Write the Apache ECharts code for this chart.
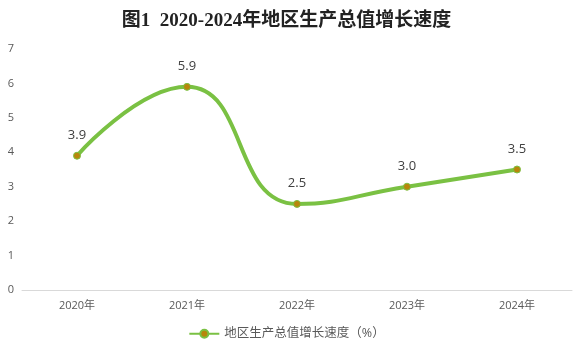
<!DOCTYPE html>
<html>
<head>
<meta charset="utf-8">
<script src="https://cdn.jsdelivr.net/npm/echarts@6/dist/echarts.min.js"></script>
<style>
  html, body { margin: 0; padding: 0; background: #fff; }
  #chart { width: 573px; height: 351px; }
</style>
</head>
<body>
<div id="chart"></div>
<script>
const years = ['2020年', '2021年', '2022年', '2023年', '2024年']
const growth = [3.9, 5.9, 2.5, 3.0, 3.5]
const seriesName = '地区生产总值增长速度（%）'

const chart = echarts.init(document.getElementById('chart'))
const labelFont = 'Open Sans, "Noto Sans CJK SC", sans-serif'

chart.setOption({
  animation: false,
  title: {
    text: '图1  2020-2024年地区生产总值增长速度',
    left: 'center',
    top: 7,
    textStyle: {
      fontFamily: '"Liberation Serif", "Noto Sans CJK SC", serif',
      fontWeight: 'bold',
      fontSize: 19,
      color: '#222'
    }
  },
  legend: {
    bottom: 6,
    itemWidth: 30,
    itemHeight: 10,
    itemGap: 4,
    textStyle: { color: '#595959', fontSize: 12.5, fontFamily: labelFont },
    data: [seriesName]
  },
  grid: { left: 22, right: 1, top: 49, bottom: 61 },
  xAxis: {
    type: 'category',
    data: years,
    axisLine: { lineStyle: { color: '#D9D9D9' } },
    axisTick: { show: false },
    axisLabel: { color: '#595959', fontSize: 11, fontFamily: labelFont, margin: 10 }
  },
  yAxis: {
    type: 'value',
    min: 0,
    max: 7,
    interval: 1,
    splitLine: { show: false },
    axisLine: { show: false },
    axisTick: { show: false },
    axisLabel: { color: '#595959', fontSize: 11, fontFamily: labelFont, margin: 8 }
  },
  series: [{
    name: seriesName,
    type: 'line',
    data: growth,
    smooth: 0.5,
    symbol: 'circle',
    symbolSize: 7,
    lineStyle: { color: '#7AC143', width: 4 },
    itemStyle: { color: '#B8860B', borderColor: '#7AC143', borderWidth: 1 },
    label: {
      show: true,
      position: 'top',
      distance: 10,
      formatter: p => p.value.toFixed(1),
      color: '#404040',
      fontSize: 13,
      fontFamily: labelFont
    }
  }]
})
</script>
</body>
</html>
